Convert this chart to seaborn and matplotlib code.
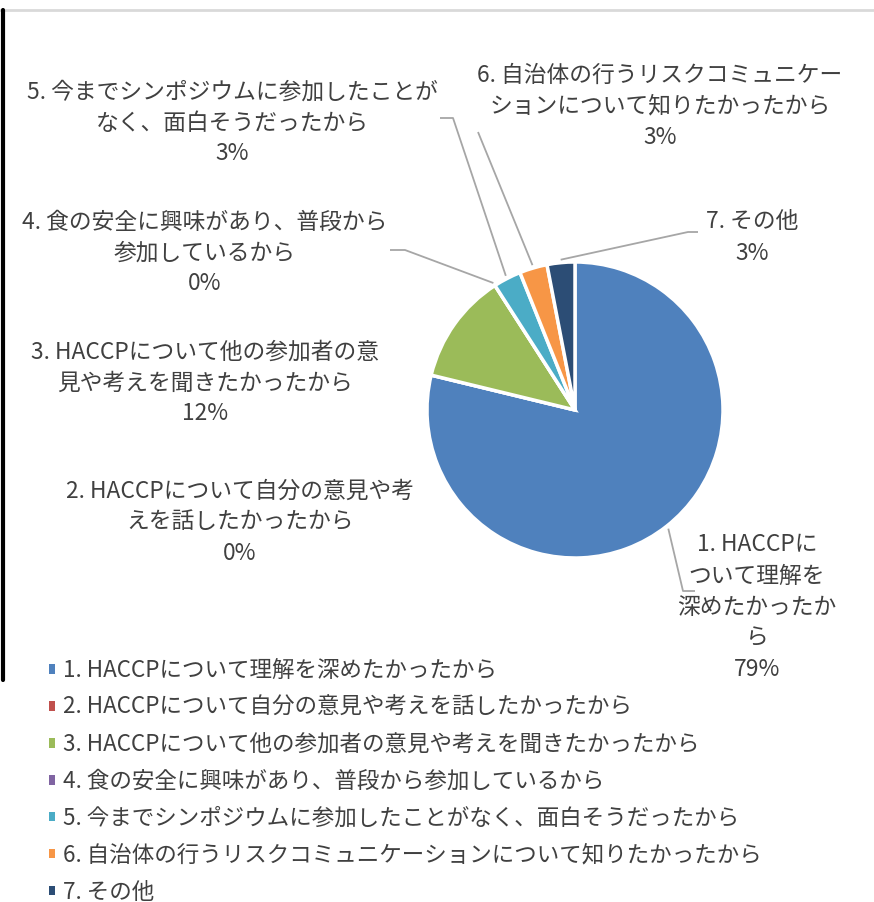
import numpy as np
import matplotlib.pyplot as plt
import seaborn as sns

# canvas size in pixels (dpi 100)
W, H = 874, 902

categories = [
    "1. HACCPについて理解を深めたかったから",
    "2. HACCPについて自分の意見や考えを話したかったから",
    "3. HACCPについて他の参加者の意見や考えを聞きたかったから",
    "4. 食の安全に興味があり、普段から参加しているから",
    "5. 今までシンポジウムに参加したことがなく、面白そうだったから",
    "6. 自治体の行うリスクコミュニケーションについて知りたかったから",
    "7. その他",
]
counts = [26, 0, 4, 0, 1, 1, 1]

# wrapped data labels as they appear next to the pie
label_lines = [
    ["1. HACCPに", "ついて理解を", "深めたかったか", "ら"],
    ["2. HACCPについて自分の意見や考", "えを話したかったから"],
    ["3. HACCPについて他の参加者の意", "見や考えを聞きたかったから"],
    ["4. 食の安全に興味があり、普段から", "参加しているから"],
    ["5. 今までシンポジウムに参加したことが", "なく、面白そうだったから"],
    ["6. 自治体の行うリスクコミュニケー", "ションについて知りたかったから"],
    ["7. その他"],
]

colors = ["#4F81BD", "#C0504D", "#9BBB59", "#8064A2", "#4BACC6", "#F79646", "#2C4D75"]
text_color = "#404040"
line_color = "#A6A6A6"


def Y(y):
    # pixel row from the top -> axes y
    return H - y


sns.set_theme(style="white")
plt.rcParams['font.family'] = ['Noto Sans CJK JP', 'DejaVu Sans']

fig = plt.figure(figsize=(W / 100, H / 100), dpi=100)
ax = fig.add_axes([0, 0, 1, 1])

cx, cy, r = 575, Y(410), 148
wedges, _ = ax.pie(
    counts,
    colors=colors,
    startangle=90,
    counterclock=False,
    center=(cx, cy),
    radius=r,
    wedgeprops=dict(edgecolor="white", linewidth=2.5),
    frame=True,
)
ax.set_xlim(0, W)
ax.set_ylim(0, H)
ax.set_aspect("equal")
ax.axis("off")

total = sum(counts)
pcts = [f"{round(c / total * 100)}%" for c in counts]

# label anchors (center x, first line y from top)
label_pos = [(757, 545), (240, 491), (205, 352), (205, 222), (232, 92), (660, 75), (752, 222)]
line_gap = 31
fs = 16.4
for lines, pct, (lx, ly) in zip(label_lines, pcts, label_pos):
    for i, t in enumerate(lines + [pct]):
        ax.text(lx, Y(ly + i * line_gap), t, ha="center", va="center",
                fontsize=fs, color=text_color)

# leader lines: fixed elbow points, then to the wedge edge
leaders = {
    0: [(695, 591), (683, 591)],
    3: [(390, 250), (405, 250)],
    4: [(440, 118), (453, 118)],
    5: [(478, 132)],
    6: [(698, 232), (688, 232)],
}
for idx, pts in leaders.items():
    w = wedges[idx]
    mid = np.deg2rad((w.theta1 + w.theta2) / 2)
    ex = cx + r * 1.02 * np.cos(mid)
    ey = cy + r * 1.02 * np.sin(mid)
    xs = [p[0] for p in pts] + [ex]
    ys = [Y(p[1]) for p in pts] + [ey]
    ax.plot(xs, ys, color=line_color, lw=1.3, solid_capstyle="butt")

leg = ax.legend(
    wedges, categories,
    loc="upper left",
    bbox_to_anchor=(40 / W, Y(650) / H),
    frameon=False,
    fontsize=16.2,
    labelcolor=text_color,
    handlelength=0.28,
    handleheight=0.28,
    handletextpad=0.35,
    labelspacing=0.62,
    borderaxespad=0,
)
for h in leg.legend_handles:
    h.set_edgecolor("none")

# screenshot frame edges
fig.add_artist(plt.Line2D([0, 1], [Y(10) / H] * 2, color="#D9D9D9", lw=2))
fig.add_artist(plt.Line2D([3 / W] * 2, [Y(10) / H, Y(680) / H], color="black", lw=3))

fig.savefig("out.png", dpi=100)
